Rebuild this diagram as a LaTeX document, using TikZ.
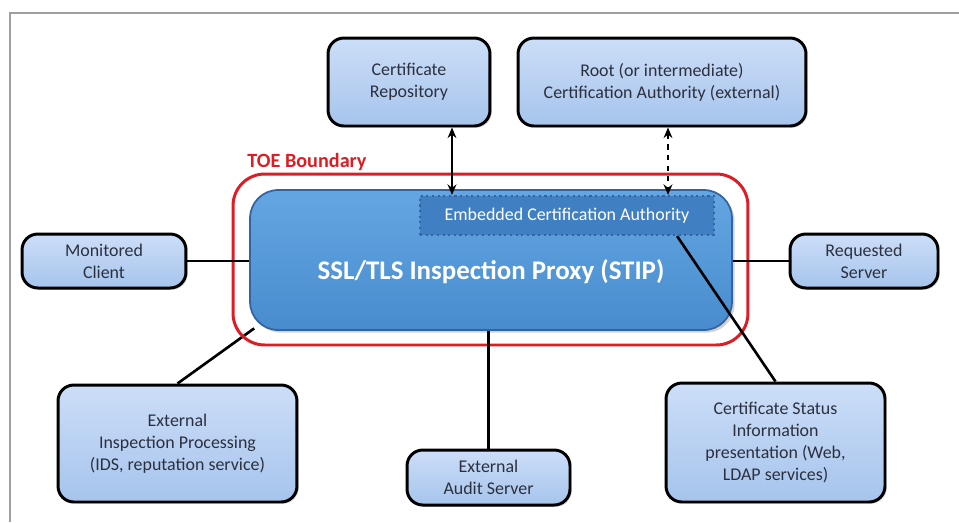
\documentclass[tikz,border=0pt]{standalone}
\usepackage{fontspec}
\setmainfont{Carlito}
\usetikzlibrary{shadows,backgrounds,arrows.meta}

\definecolor{boxtop}{RGB}{204,222,248}
\definecolor{boxblue}{RGB}{166,196,236}
\definecolor{boxtext}{RGB}{44,48,62}
\definecolor{proxytop}{RGB}{100,166,226}
\definecolor{proxyblue}{RGB}{72,140,206}
\definecolor{proxyedge}{RGB}{52,100,160}
\definecolor{embedblue}{RGB}{64,128,194}
\definecolor{toered}{RGB}{222,28,36}

\tikzset{
  entity/.style={draw=black, line width=1.7pt, rounded corners=9pt,
    top color=boxtop, bottom color=boxblue, text=boxtext, align=center,
    font=\fontsize{10.2}{12.4}\selectfont, inner sep=2pt,
    drop shadow={opacity=0.3, shadow xshift=1pt, shadow yshift=-1pt}},
  proxy/.style={draw=proxyedge, line width=1pt, rounded corners=16pt,
    top color=proxytop, bottom color=proxyblue,
    drop shadow={opacity=0.35, shadow xshift=1.5pt, shadow yshift=-1.5pt}},
  embedded/.style={draw=proxyedge, dotted, line width=1.2pt, fill=embedblue,
    text=white, font=\fontsize{10.2}{12}\selectfont},
  boundary/.style={draw=toered, line width=1.7pt, rounded corners=18pt},
  link/.style={draw=black, line width=1.5pt},
  biarrow/.style={link, {Stealth[length=6pt,width=5pt]}-{Stealth[length=6pt,width=5pt]}}
}

\begin{document}
\begin{tikzpicture}[x=0.02cm, y=-0.02cm]
  \useasboundingbox (0,0) rectangle (959,522);
  % frame
  \draw[gray!75, line width=1.1pt] (10,522) -- (10,13) -- (959,13);

  % top boxes
  \node[entity, minimum width=3.24cm, minimum height=1.76cm] (certrepo) at (409,82)
    {Certificate\\Repository};
  \node[entity, minimum width=5.76cm, minimum height=1.76cm] (rootca) at (662,82)
    {Root (or intermediate)\\Certification Authority (external)};

  % TOE boundary and proxy
  \node[boundary, minimum width=10.3cm, minimum height=3.42cm] (toe) at (490.5,259.5) {};
  \node[text=toered, font=\fontsize{11.5}{13}\bfseries\selectfont] (toelabel) at (307,162)
    {TOE Boundary};
  \node[proxy, minimum width=9.64cm, minimum height=2.8cm] (stip) at (491,260) {};
  \node[text=white, font=\fontsize{15.3}{17}\bfseries\selectfont] (stiplabel) at (491,272)
    {SSL/TLS Inspection Proxy (STIP)};
  \node[embedded, minimum width=5.88cm, minimum height=0.78cm] (embedded) at (567,215.5)
    {Embedded Certification Authority};

  % side boxes
  \node[entity, minimum width=3.28cm, minimum height=1.08cm] (client) at (104,261)
    {Monitored\\Client};
  \node[entity, minimum width=2.96cm, minimum height=1.08cm] (server) at (864,261)
    {Requested\\Server};

  % bottom boxes
  \node[entity, minimum width=4.78cm, minimum height=2.34cm] (extinsp) at (177.5,443.5)
    {External\\Inspection Processing\\(IDS, reputation service)};
  \node[entity, minimum width=3.26cm, minimum height=1.1cm] (audit) at (488.5,477.5)
    {External\\Audit Server};
  \node[entity, minimum width=4.38cm, minimum height=2.38cm] (certstatus) at (775.5,442.5)
    {Certificate Status\\Information\\presentation (Web,\\LDAP services)};

  % connectors
  \coordinate (repojoin) at (452,0);
  \coordinate (cajoin) at (668,0);
  \draw[biarrow] (certrepo.south -| repojoin) -- (embedded.north -| repojoin);
  \draw[biarrow, dashed] (rootca.south -| cajoin) -- (embedded.north -| cajoin);
  \draw[link] (client.east) -- (client.east -| stip.west);
  \draw[link] (server.west) -- (server.west -| stip.east);
  \draw[link] (audit.north) -- (audit.north |- stip.south);
  \begin{scope}[on background layer]
    \draw[link] (extinsp.north) -- ([xshift=0.1cm,yshift=0.05cm]stip.south west);
  \end{scope}
  \draw[link] (certstatus.north) -- ([xshift=-0.76cm]embedded.south east);
\end{tikzpicture}
\end{document}
